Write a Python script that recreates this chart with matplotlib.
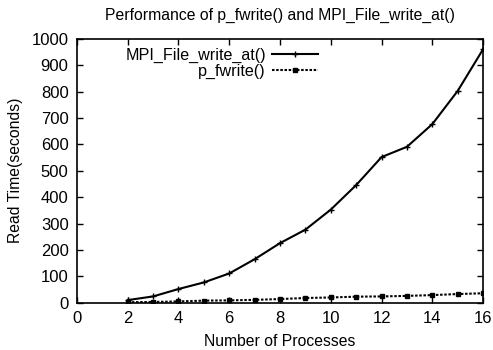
#!/usr/bin/env python

import matplotlib
matplotlib.use("Agg")
import matplotlib.pyplot as plt

# Data
processes = [2, 3, 4, 5, 6, 7, 8, 9, 10, 11, 12, 13, 14, 15, 16]
mpi_write_at = [10, 24, 52, 77, 111, 165, 226, 277, 353, 446, 552, 591, 677, 803, 961]
p_fwrite = [2, 3, 5, 8, 9, 11, 14, 18, 20, 23, 24, 26, 29, 33, 36]

x_ticks = list(range(0, 17, 2))
y_ticks = list(range(0, 1001, 100))


def main():
    plt.rcParams["font.family"] = ["Liberation Sans", "DejaVu Sans"]

    fig = plt.figure(figsize=(4.93, 3.5), dpi=100)
    ax = fig.add_axes([0.156, 0.135, 0.824, 0.754])

    ax.plot(processes, mpi_write_at, color="black", linewidth=1.5,
            marker="+", markersize=4, markeredgewidth=1.0,
            label="MPI_File_write_at()")
    ax.plot(processes, p_fwrite, color="black", linewidth=1.5,
            linestyle=(0, (1.2, 0.8)), marker="s", markersize=3,
            label="p_fwrite()")

    ax.set_xlim(0, 16)
    ax.set_ylim(0, 1000)
    ax.set_xticks(x_ticks)
    ax.set_yticks(y_ticks)
    ax.tick_params(direction="in", top=True, right=True, length=4,
                   width=1, labelsize=12, pad=6)
    for spine in ax.spines.values():
        spine.set_linewidth(1.2)

    ax.set_title("Performance of p_fwrite() and MPI_File_write_at()",
                 fontsize=11.3, pad=14)
    ax.set_xlabel("Number of Processes", fontsize=11.3, labelpad=6)
    ax.set_ylabel("Read Time(seconds)", fontsize=11.3, labelpad=6)

    ax.legend(loc="upper right", bbox_to_anchor=(0.628, 1.02),
              frameon=False, markerfirst=False, fontsize=11.6,
              handlelength=2.8, labelspacing=0.02, handletextpad=0.4)

    fig.savefig("out.png", dpi=100)


if __name__ == "__main__":
    main()
